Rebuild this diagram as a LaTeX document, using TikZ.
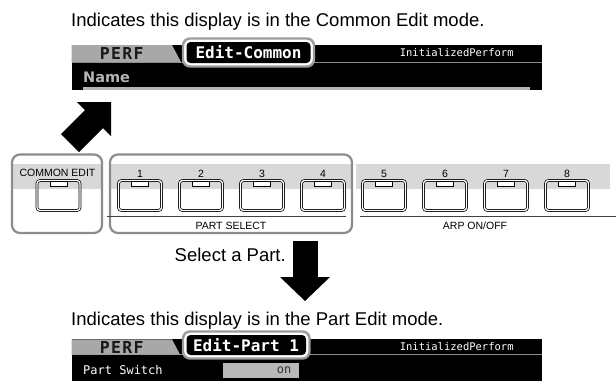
\documentclass[tikz,border=0pt]{standalone}
\usepackage{fontspec}
\setmainfont{Liberation Sans}
\newfontfamily\lcdmono{DejaVu Sans Mono}
\newfontfamily\lcdsans{DejaVu Sans}
\newfontfamily\lcdwide[LetterSpace=8]{DejaVu Sans Mono}
\definecolor{bandgray}{HTML}{D8D8D8}
\definecolor{boxgray}{HTML}{8C8C8C}
\definecolor{tabgray}{HTML}{A8A8A8}
\definecolor{ringgray}{HTML}{9C9C9C}
\definecolor{namegray}{HTML}{B4B4B4}
\definecolor{ongray}{HTML}{B8B8B8}
\tikzset{
	panel/.style={draw=boxgray, line width=2.2pt, rounded corners=8pt},
	btn/.style={draw=black, line width=0.7pt, double=white, double distance=1.3pt, rounded corners=3pt, minimum width=43pt, minimum height=30pt, inner sep=0pt},
	led/.style={draw=black, line width=0.6pt, fill=white, minimum width=17pt, minimum height=5pt, inner sep=0pt},
	keylbl/.style={font=\fontsize{10.5}{12}\selectfont, inner sep=0pt},
	caption/.style={font=\fontsize{18.5}{21}\selectfont, inner sep=0pt},
	ring/.style={draw=ringgray, line width=2.4pt, fill=white, rounded corners=7pt},
	lcdhead/.style={font=\lcdmono\bfseries\fontsize{16}{18}\selectfont, text=white, inner sep=0pt},
	lcdsmall/.style={font=\lcdmono\fontsize{10.5}{12}\selectfont, text=white, inner sep=0pt},
	lcdperf/.style={font=\lcdwide\bfseries\fontsize{16.5}{18}\selectfont, text=black!90, inner sep=0pt},
	rule/.style={draw=black!75, line width=0.8pt}
}
\begin{document}
\begin{tikzpicture}[x=1pt, y=-1pt]
	\useasboundingbox (0,0) rectangle (616,381);
	\fill[white] (0,0) rectangle (616,381);
	\node[caption, anchor=base west] (top) at (71,26.7) {Indicates this display is in the Common Edit mode.};
	\fill[black] (71.7,45) rectangle (542,89.5);
	\draw[boxgray, line width=0.8pt] (71.7,62) -- (542,62);
	\fill[tabgray] (71.7,45) -- (172,45) -- (181,62) -- (71.7,62) -- cycle;
	\draw[ring] (183,38.5) rectangle (314,66.5);
	\fill[black, rounded corners=4pt] (186.5,42) rectangle (310.5,63);
	\node[lcdperf] (perf1) at (121.7,53.5) {PERF};
	\node[lcdhead] (ecommon) at (248.5,52.5) {Edit-Common};
	\node[lcdsmall] (init1) at (456.7,53) {InitializedPerform};
	\node[font=\lcdsans\bfseries\fontsize{14.5}{16}\selectfont, text=namegray, inner sep=0pt, anchor=west] (pname) at (83,77) {Name};
	\fill[namegray] (83,86.5) rectangle (530,89.5);
	\fill[black] (111,102) -- (111,136) -- (103,128) -- (79,152) -- (61,134) -- (85,110) -- (77,102) -- cycle;
	\fill[bandgray] (12,164) rectangle (102,189);
	\fill[bandgray] (110,164) rectangle (352,189);
	\fill[bandgray] (356,164) rectangle (610,189);
	\draw[panel] (12,154.5) rectangle (102,233);
	\draw[panel] (110,154.5) rectangle (352,233);
	\node[keylbl] (celbl) at (57.5,173) {COMMON EDIT};
	\node[btn] (ce) at (58.5,195.5) {};
	\node[led] (celed) at (58.5,183.8) {};
	\foreach \n in {1,...,8}{
		\node[btn] (b\n) at ({79+61*\n},195.5) {};
		\node[led] (l\n) at ({79+61*\n},183.8) {};
		\node[keylbl] (n\n) at ({79+61*\n},173.5) {\n};
	}
	\draw[rule] (107,216.5) -- (346,216.5);
	\draw[rule] (360,216.5) -- (616,216.5);
	\node[keylbl] (psel) at (231,225.5) {PART SELECT};
	\node[keylbl] (arp) at (475,225.5) {ARP ON/OFF};
	\node[caption, anchor=base east] (selpart) at (286,261.5) {Select a Part.};
	\fill[black] (292.5,241) rectangle (317.5,277.5);
	\fill[black] (280,277) -- (330,277) -- (305,301) -- cycle;
	\node[caption, anchor=base west] (bottom) at (71,325) {Indicates this display is in the Part Edit mode.};
	\fill[black] (71.7,339.3) rectangle (542,381);
	\draw[boxgray, line width=0.8pt] (71.7,354.5) -- (542,354.5);
	\fill[tabgray] (71.7,339.3) -- (172,339.3) -- (180,354.5) -- (71.7,354.5) -- cycle;
	\draw[ring] (183,331.5) rectangle (309.5,358.5);
	\fill[black, rounded corners=4pt] (186.5,335) rectangle (306,355);
	\node[lcdperf] (perf2) at (121.7,347) {PERF};
	\node[lcdhead] (epart) at (246,345.5) {Edit-Part 1};
	\node[lcdsmall] (init2) at (456.7,346.5) {InitializedPerform};
	\node[font=\lcdmono\fontsize{12}{14}\selectfont, text=white, inner sep=0pt, anchor=west] (pswitch) at (83,370) {Part Switch};
	\fill[ongray] (223.3,362.7) rectangle (299.3,377.7);
	\node[font=\lcdmono\fontsize{12}{14}\selectfont, text=black!80, inner sep=0pt] (onval) at (284,370.5) {on};
\end{tikzpicture}
\end{document}
